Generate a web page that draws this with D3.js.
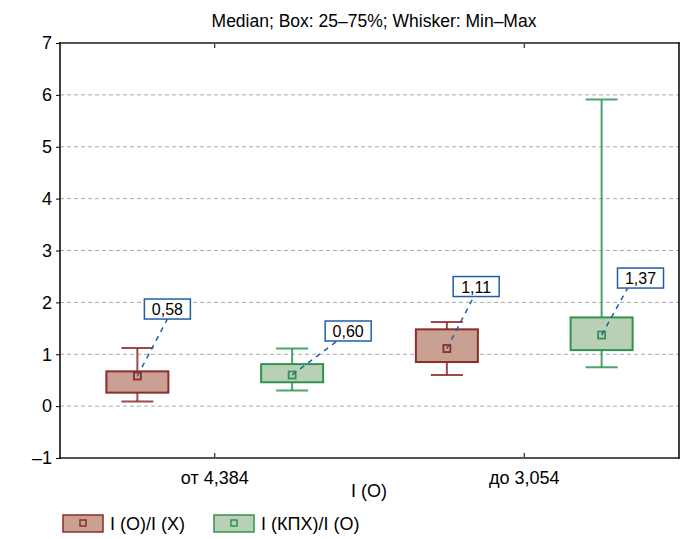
<!DOCTYPE html>
<html><head><meta charset="utf-8">
<script src="https://cdn.jsdelivr.net/npm/d3@7"></script>
<style>body{margin:0;background:#fff}svg{display:block}text{font-family:"Liberation Sans",Arial,sans-serif;}</style>
</head><body><svg id="c" width="691" height="539"></svg>
<script>
const categories = ["от 4,384", "до 3,054"];
const seriesNames = ["I (O)/I (X)", "I (КПХ)/I (O)"];
// per category, per series: [min, q1, median, q3, max]
const mins    = [[0.09, 0.30], [0.60, 0.75]];
const q1s     = [[0.26, 0.46], [0.85, 1.08]];
const medians = [[0.58, 0.60], [1.11, 1.37]];
const q3s     = [[0.67, 0.81], [1.48, 1.71]];
const maxs    = [[1.12, 1.11], [1.62, 5.91]];
const medianLabels = [["0,58", "0,60"], ["1,11", "1,37"]];
const yTicks = [-1, 0, 1, 2, 3, 4, 5, 6, 7];
const title = "Median; Box: 25–75%; Whisker: Min–Max";
const xTitle = "I (O)";
// label callout offsets (px) from median point: leader end dx, dy, box anchor fraction
const labelOffsets = [[[30, -57, 0.5], [45, -34, 0.26]], [[27, -52, 0.45], [26, -47, 0.22]]];

const fills = ["#c9a193", "#bad0b6"];
const strokes = ["#8e2b2b", "#2f9350"];
const labelBlue = "#1f5fa8";

const svg = d3.select("#c");
const L = 60, R = 679, T = 43, B = 458;
const y = d3.scaleLinear().domain([-1, 7]).range([B, T]);
const x = d3.scaleBand().domain(categories).range([L, R]).padding(0);
const xs = d3.scaleBand().domain(seriesNames).range([0, x.bandwidth()]).padding(0);

// grid
svg.append("g").selectAll("line").data(yTicks.filter(t => t > -1 && t < 7)).join("line")
  .attr("x1", L).attr("x2", R).attr("y1", d => y(d)).attr("y2", d => y(d))
  .attr("stroke", "#a8a8a8").attr("stroke-width", 1).attr("stroke-dasharray", "4,3");

// y axis
const yAxis = d3.axisLeft(y).tickValues(yTicks).tickSize(4).tickPadding(4)
  .tickFormat(d => d < 0 ? "–" + Math.abs(d) : d);
const ga = svg.append("g").attr("transform", `translate(${L},0)`).call(yAxis);
ga.select(".domain").remove();
ga.selectAll("line").attr("stroke", "#000");
ga.selectAll("text").attr("font-size", 18).attr("fill", "#000").style("font-family", '"Liberation Sans",Arial,sans-serif');

// x axis (bottom and top, inward ticks)
const xb = svg.append("g").attr("transform", `translate(0,${B})`)
  .call(d3.axisBottom(x).tickSize(-5).tickPadding(13));
xb.select(".domain").remove();
xb.selectAll("line").attr("stroke", "#000");
xb.selectAll("text").attr("font-size", 18).attr("fill", "#000").style("font-family", '"Liberation Sans",Arial,sans-serif');
const xt = svg.append("g").attr("transform", `translate(0,${T})`)
  .call(d3.axisTop(x).tickSize(-5).tickFormat(""));
xt.select(".domain").remove();
xt.selectAll("line").attr("stroke", "#000");

// frame
svg.append("line").attr("x1", L).attr("x2", R).attr("y1", T).attr("y2", T).attr("stroke", "#555").attr("stroke-width", 2);
svg.append("line").attr("x1", L).attr("x2", R).attr("y1", B).attr("y2", B).attr("stroke", "#555").attr("stroke-width", 2);
svg.append("line").attr("x1", L).attr("x2", L).attr("y1", T - 1).attr("y2", B + 1).attr("stroke", "#000").attr("stroke-width", 1.5);
svg.append("line").attr("x1", R).attr("x2", R).attr("y1", T - 1).attr("y2", B + 1).attr("stroke", "#000").attr("stroke-width", 1.5);

// boxes
const boxW = 62, capW = 32, medS = 7;
const items = [];
categories.forEach((c, ci) => seriesNames.forEach((s, si) => items.push({ci, si,
  cx: x(c) + xs(s) + xs.bandwidth() / 2,
  min: mins[ci][si], q1: q1s[ci][si], med: medians[ci][si], q3: q3s[ci][si], max: maxs[ci][si],
  lab: medianLabels[ci][si], off: labelOffsets[ci][si]})));

const g = svg.append("g");
items.forEach(d => {
  const col = strokes[d.si];
  const gg = g.append("g");
  gg.append("line").attr("x1", d.cx).attr("x2", d.cx).attr("y1", y(d.max)).attr("y2", y(d.q3)).attr("stroke", col).attr("stroke-width", 2).attr("opacity", 0.85);
  gg.append("line").attr("x1", d.cx).attr("x2", d.cx).attr("y1", y(d.q1)).attr("y2", y(d.min)).attr("stroke", col).attr("stroke-width", 2).attr("opacity", 0.85);
  gg.append("line").attr("x1", d.cx - capW / 2).attr("x2", d.cx + capW / 2).attr("y1", y(d.max)).attr("y2", y(d.max)).attr("stroke", col).attr("stroke-width", 2).attr("opacity", 0.85);
  gg.append("line").attr("x1", d.cx - capW / 2).attr("x2", d.cx + capW / 2).attr("y1", y(d.min)).attr("y2", y(d.min)).attr("stroke", col).attr("stroke-width", 2).attr("opacity", 0.85);
  gg.append("rect").attr("x", d.cx - boxW / 2).attr("y", y(d.q3)).attr("width", boxW).attr("height", y(d.q1) - y(d.q3))
    .attr("fill", fills[d.si]).attr("stroke", col).attr("stroke-width", 2);
  gg.append("rect").attr("x", d.cx - medS / 2).attr("y", y(d.med) - medS / 2).attr("width", medS).attr("height", medS)
    .attr("fill", fills[d.si]).attr("stroke", col).attr("stroke-width", 1.8);
});

// callouts
items.forEach(d => {
  const mx = d.cx, my = y(d.med);
  const ex = mx + d.off[0], ey = my + d.off[1];
  g.append("line").attr("x1", mx).attr("y1", my).attr("x2", ex).attr("y2", ey)
    .attr("stroke", labelBlue).attr("stroke-width", 1.5).attr("stroke-dasharray", "5,5");
  const bw = 46, bh = 20;
  const bx = ex - bw * d.off[2];
  g.append("rect").attr("x", bx).attr("y", ey - bh).attr("width", bw).attr("height", bh)
    .attr("fill", "#fff").attr("stroke", labelBlue).attr("stroke-width", 1.5);
  g.append("text").attr("x", bx + bw / 2).attr("y", ey - bh / 2 + 6).attr("text-anchor", "middle")
    .attr("font-size", 16).attr("fill", "#000").text(d.lab);
});

// title
svg.append("text").attr("x", 374).attr("y", 27).attr("text-anchor", "middle").attr("font-size", 17.5).text(title);
svg.append("text").attr("x", 369).attr("y", 497).attr("text-anchor", "middle").attr("font-size", 18).text(xTitle);

// legend
const legX = [63, 214];
seriesNames.forEach((s, i) => {
  const lg = svg.append("g").attr("transform", `translate(${legX[i]},515)`);
  lg.append("rect").attr("x", 0).attr("y", 0).attr("width", 40).attr("height", 17).attr("fill", fills[i]).attr("stroke", strokes[i]).attr("stroke-width", 1.5);
  lg.append("rect").attr("x", 17).attr("y", 5).attr("width", 6).attr("height", 6).attr("fill", fills[i]).attr("stroke", strokes[i]).attr("stroke-width", 1.5);
  lg.append("text").attr("x", 47).attr("y", 15).attr("font-size", 18).text(s);
});
</script></body></html>
